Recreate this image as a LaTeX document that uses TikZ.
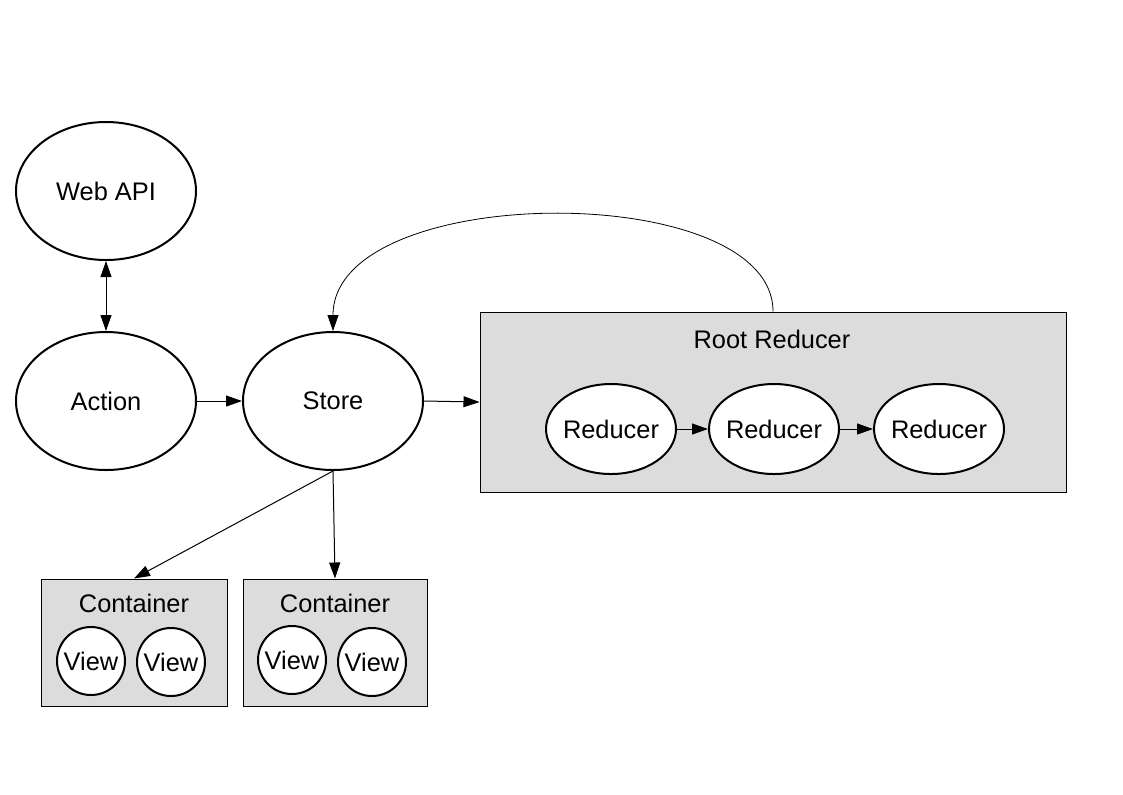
\documentclass[tikz,border=0pt]{standalone}
\usepackage{fontspec}
\setmainfont{Liberation Sans}
\usepackage{tikz}
\usetikzlibrary{positioning}
\usetikzlibrary{arrows.meta}
\usetikzlibrary{shapes.geometric}
\usepackage{xcolor}
\definecolor{panelgray}{RGB}{220,220,220}

\begin{document}
\begin{tikzpicture}[x=0.5pt, y=-0.5pt,
    font=\fontsize{12.7}{15}\selectfont,
    >={Triangle[length=8pt,width=5.5pt]},
    bubble/.style={draw, ellipse, line width=1pt, fill=white, inner sep=0pt, minimum width=90pt, minimum height=69pt},
    smallbubble/.style={draw, ellipse, line width=1pt, fill=white, inner ysep=0pt, inner xsep=-1.2pt, minimum width=65pt, minimum height=45pt},
    viewbubble/.style={draw, circle, line width=1pt, fill=white, inner sep=0pt, minimum size=34pt},
    panel/.style={draw, rectangle, line width=0.5pt, fill=panelgray},
    link/.style={->, line width=0.5pt}]
    \useasboundingbox (0,0) rectangle (1123,794);

    % Left column
    \node (action) [bubble] at (106,401) {Action};
    \node (webapi) [bubble, above of=action, node distance=105pt] {Web API};
    \node (store) [bubble, right of=action, node distance=113.5pt] {Store};

    % Root reducer with its reducers
    \node (rootbox) [panel, minimum width=293pt, minimum height=90pt] at (773,402) {};
    \node (roottitle) at (772,339) {Root Reducer};
    \node (red2) [smallbubble] at (774,429) {Reducer};
    \node (red1) [smallbubble, left of=red2, node distance=81.5pt] {Reducer};
    \node (red3) [smallbubble, right of=red2, node distance=82.5pt] {Reducer};

    % Containers with their views
    \node (cont1) [panel, minimum width=93pt, minimum height=63.5pt] at (134,642.5) {};
    \node (cont2) [panel, minimum width=92pt, minimum height=63.5pt] at (335,642.5) {};
    \node (cont1title) at (134,603) {Container};
    \node (cont2title) at (335,603) {Container};
    \node (view1) [viewbubble] at (91,661) {View};
    \node (view2) [viewbubble] at (171,662) {View};
    \node (view3) [viewbubble] at (292,660) {View};
    \node (view4) [viewbubble] at (372,662) {View};

    % Arrows
    \draw[<->, line width=0.5pt] (webapi.south) -- (action.north);
    \draw[link] (action.east) -- (store.west);
    \draw[link] (store.east) -- (rootbox.west);
    \draw[link] (red1.east) -- (red2.west);
    \draw[link] (red2.east) -- (red3.west);
    \draw[link] (store.south) -- (cont1.north);
    \draw[link] (store.south) -- (cont2.north);
    \draw[->, line width=0.4pt] (rootbox.north) .. controls +(0,-133) and +(0,-150) .. (store.north);
\end{tikzpicture}
\end{document}
